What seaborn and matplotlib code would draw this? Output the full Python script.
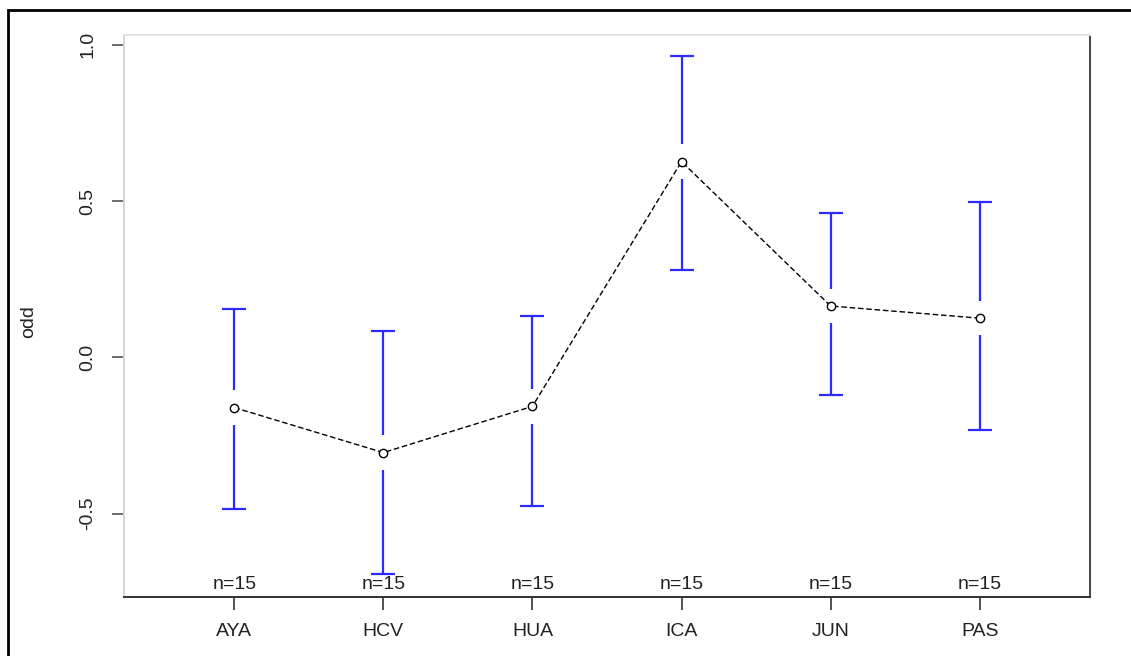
import numpy as np
import pandas as pd
import matplotlib
matplotlib.use("Agg")
import matplotlib.pyplot as plt
from matplotlib.patches import Rectangle
import seaborn as sns

# Group means with 95% confidence limits
groups = ["AYA", "HCV", "HUA", "ICA", "JUN", "PAS"]
means = [-0.161, -0.305, -0.157, 0.626, 0.164, 0.125]
ci_lower = [-0.485, -0.695, -0.475, 0.279, -0.122, -0.234]
ci_upper = [0.155, 0.084, 0.132, 0.964, 0.463, 0.498]
counts = [15, 15, 15, 15, 15, 15]
y_ticks = [-0.5, 0.0, 0.5, 1.0]

sns.set_theme(style="white")
plt.rcParams["font.family"] = ["Liberation Sans", "DejaVu Sans"]

fig = plt.figure(figsize=(11.31, 6.56), dpi=100)
ax = fig.add_axes([124 / 1131, 1 - 597 / 656, (1090 - 124) / 1131, (597 - 35) / 656])

pos = np.arange(1, len(groups) + 1)
df = pd.DataFrame({"pos": pos, "mean": means, "lo": ci_lower, "hi": ci_upper})

# confidence bars, leaving a gap around each mean point
gap = 0.055
bar_col = "#2b2bff"
ax.vlines(df["pos"], df["mean"] + gap, df["hi"], color=bar_col, lw=1.6, zorder=2)
ax.vlines(df["pos"], df["lo"], df["mean"] - gap, color=bar_col, lw=1.6, zorder=2)
ax.plot(df["pos"], df["hi"], ls="none", marker="_", ms=17, mew=1.6, color=bar_col, zorder=2)
ax.plot(df["pos"], df["lo"], ls="none", marker="_", ms=17, mew=1.6, color=bar_col, zorder=2)

# means joined by a line
sns.lineplot(data=df, x="pos", y="mean", ax=ax, color="black", lw=1.0,
             dashes=False, linestyle=(0, (4, 2)), marker="o", markersize=6,
             markerfacecolor="white", markeredgecolor="black", markeredgewidth=1.0,
             zorder=3)

ax.set_xlim(0.26, 6.74)
ax.set_ylim(-0.767, 1.031)

# sample sizes along the bottom of the plot
for p, n in zip(pos, counts):
    ax.text(p, -0.767 + 0.012, f"n={n}", ha="center", va="bottom", fontsize=14, color="#222222")

ax.set_xticks(pos)
ax.set_xticklabels(groups)
ax.set_yticks(y_ticks)
ax.set_yticklabels([f"{v:.1f}" for v in y_ticks], rotation=90, va="center")
ax.tick_params(axis="x", direction="out", length=9, width=1.2, colors="#333333",
               labelsize=14, pad=10, bottom=True)
ax.tick_params(axis="y", direction="out", length=9, width=1.2, colors="#555555",
               labelsize=14, pad=11, left=True)
for lab in ax.get_xticklabels() + ax.get_yticklabels():
    lab.set_color("#222222")

ax.set_xlabel("")
ax.set_ylabel("odd", fontsize=14, color="#222222")
ax.yaxis.set_label_coords(-0.09, 0.49)

ax.spines["left"].set_color("#d6d6d6")
ax.spines["top"].set_color("#e2e2e2")
ax.spines["right"].set_color("#444444")
ax.spines["bottom"].set_color("#333333")
for s in ax.spines.values():
    s.set_linewidth(1.4)

# outer frame around the figure
fig.patches.append(Rectangle((8 / 1131, -0.05), 1.1, 1 - 10 / 656 + 0.05,
                             transform=fig.transFigure, fill=False,
                             edgecolor="black", lw=2.0))

fig.savefig("out.png", dpi=100, facecolor="white")
